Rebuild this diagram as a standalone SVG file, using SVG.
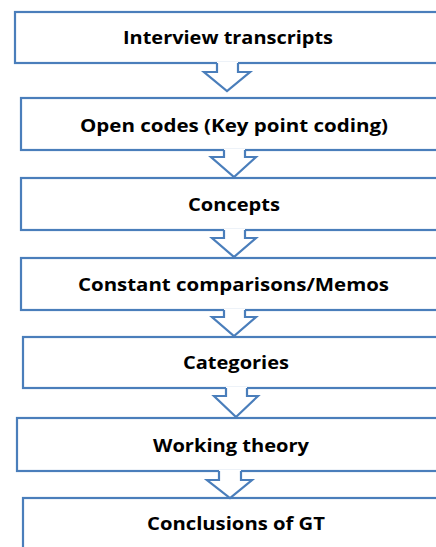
<svg xmlns="http://www.w3.org/2000/svg" width="436" height="547" viewBox="0 0 436 547">
<style>
.box{fill:#fff;stroke:#4a7ebb;stroke-width:2.2}
.af{fill:#fff;stroke:none}
.as{fill:none;stroke:#4a7ebb;stroke-width:2.2;stroke-linejoin:miter}
.t{font-family:"Open Sans","Liberation Sans",Arial,sans-serif;font-weight:bold;font-size:18px;fill:#000}
</style>
<rect width="436" height="547" fill="#fff"/>
<g id="n1"><rect class="box" x="15" y="12" width="440" height="51"/><text class="t" x="123" y="44" textLength="210" lengthAdjust="spacingAndGlyphs">Interview transcripts</text></g>
<g id="n2"><rect class="box" x="21" y="98" width="440" height="52"/><text class="t" x="80" y="132" textLength="308" lengthAdjust="spacingAndGlyphs">Open codes (Key point coding)</text></g>
<g id="n3"><rect class="box" x="21" y="178" width="440" height="52"/><text class="t" x="188" y="211" textLength="92" lengthAdjust="spacingAndGlyphs">Concepts</text></g>
<g id="n4"><rect class="box" x="21" y="258" width="440" height="52"/><text class="t" x="78" y="291" textLength="311" lengthAdjust="spacingAndGlyphs">Constant comparisons/Memos</text></g>
<g id="n5"><rect class="box" x="23" y="337" width="440" height="51"/><text class="t" x="183" y="369" textLength="106" lengthAdjust="spacingAndGlyphs">Categories</text></g>
<g id="n6"><rect class="box" x="17" y="418" width="440" height="53"/><text class="t" x="153" y="452" textLength="156" lengthAdjust="spacingAndGlyphs">Working theory</text></g>
<g id="n7"><rect class="box" x="23" y="498" width="440" height="60"/><text class="t" x="147" y="530" textLength="178" lengthAdjust="spacingAndGlyphs">Conclusions of GT</text></g>
<g id="connectors">
<polygon class="af" points="217,62 238,62 238,72 250,72 228,91 204,72 217,72"/>
<path class="as" d="M217,63 V72 H204 L227,91 L250,72 H238 V63"/>
<polygon class="af" points="224,149 245,149 245,157 256,157 234,177 211,157 224,157"/>
<path class="as" d="M224,150 V157 H211 L234,177 L256,157 H245 V150"/>
<polygon class="af" points="224,229 245,229 245,238 256,238 234,257 212,238 224,238"/>
<path class="as" d="M224,230 V238 H212 L234,257 L256,238 H245 V230"/>
<polygon class="af" points="224,309 245,309 245,317 256,317 234,336 212,317 224,317"/>
<path class="as" d="M224,310 V317 H212 L234,336 L256,317 H245 V310"/>
<polygon class="af" points="226,387 247,387 247,396 258,396 236,417 214,396 226,396"/>
<path class="as" d="M226,388 V396 H214 L236,417 L258,396 H247 V388"/>
<polygon class="af" points="219,470 241,470 241,480 252,480 230,498 207,480 219,480"/>
<path class="as" d="M219,471 V480 H207 L230,498 L252,480 H241 V471"/>
</g>
</svg>
